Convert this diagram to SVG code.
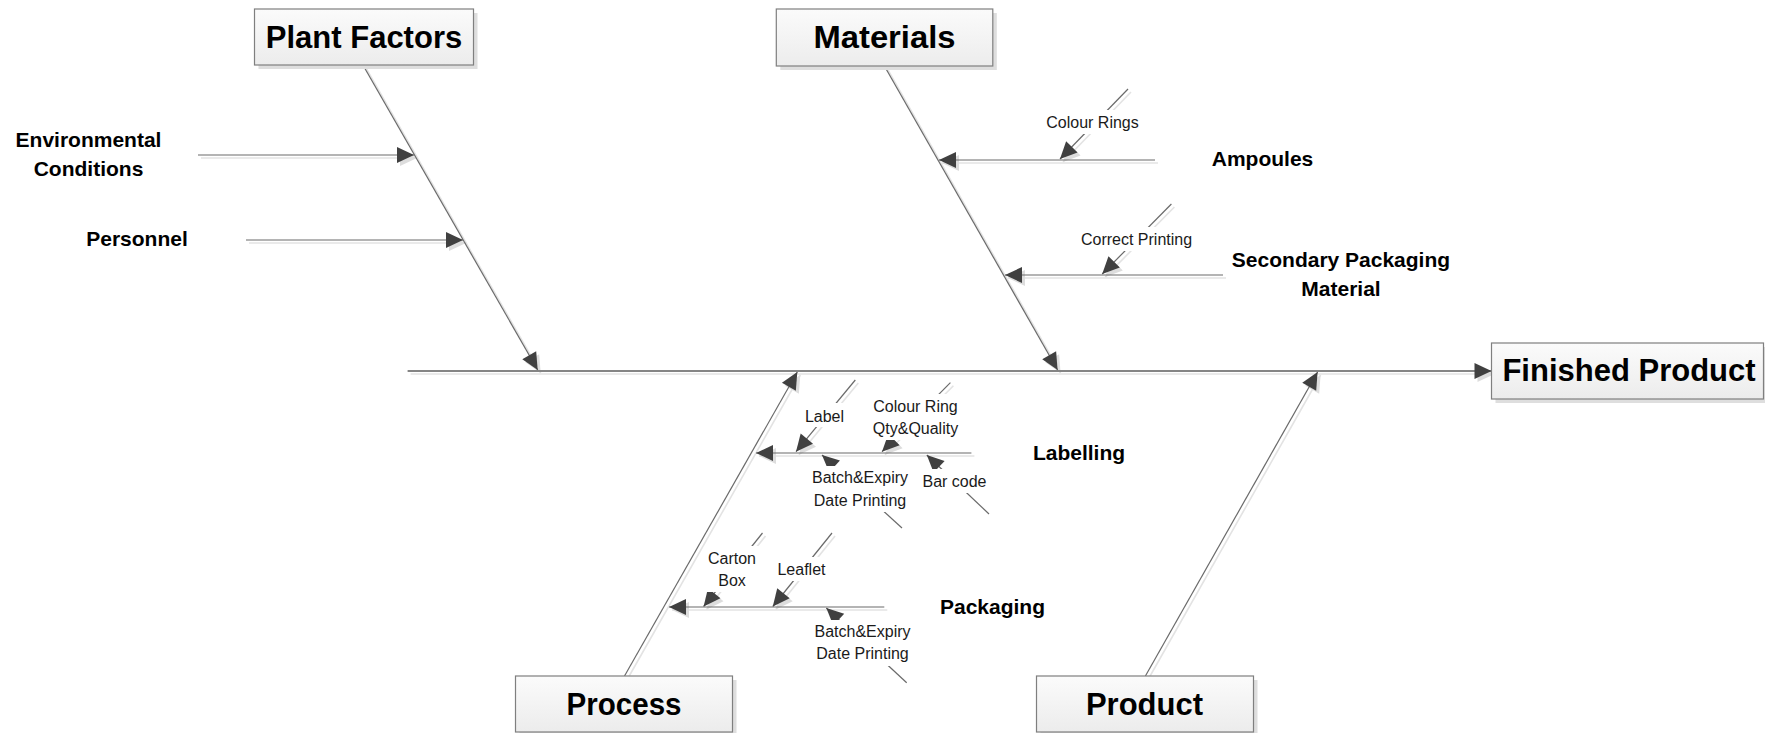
<svg xmlns="http://www.w3.org/2000/svg" width="1765" height="733" viewBox="0 0 1765 733">
<defs>
<linearGradient id="boxg" x1="0" y1="0" x2="0" y2="1">
<stop offset="0" stop-color="#fbfbfb"/>
<stop offset="1" stop-color="#ececec"/>
</linearGradient>
<marker id="ah" markerUnits="userSpaceOnUse" markerWidth="17" markerHeight="16" refX="17" refY="8" orient="auto" overflow="visible">
<path d="M0,0 L17,8 L0,16 z" fill="#404040"/>
</marker>
<marker id="ahs" markerUnits="userSpaceOnUse" markerWidth="17" markerHeight="16" refX="17" refY="8" orient="auto" overflow="visible">
<path d="M0,0 L17,8 L0,16 z" fill="#dddddd"/>
</marker>
</defs>
<style>
.box{fill:url(#boxg);stroke:#7f7f7f;stroke-width:1.2}
.bsh{fill:#dedede}
.big{font-family:"Liberation Sans",Arial,sans-serif;font-weight:bold;font-size:31px;fill:#000;text-anchor:middle}
.cat{font-family:"Liberation Sans",Arial,sans-serif;font-weight:bold;font-size:21px;fill:#000;text-anchor:middle}
.sm{font-family:"Liberation Sans",Arial,sans-serif;font-size:16px;fill:#1a1a1a;text-anchor:middle}
.ln{stroke:#6a6a6a;stroke-width:1.2;fill:none;marker-end:url(#ah)}
.spine{stroke:#858585;stroke-width:2;fill:none;marker-end:url(#ah)}
.sh{stroke:#e3e3e3;stroke-width:1.6;fill:none;marker-end:url(#ahs)}
.bg{fill:#ffffff}
</style>
<rect width="1765" height="733" fill="#ffffff"/>

<g id="shadows" transform="translate(3,3)">
<line class="sh" x1="407.6" y1="371" x2="1491.5" y2="371"/>
<line class="sh" x1="363.5" y1="66" x2="537.7" y2="370"/>
<line class="sh" x1="884.4" y1="66" x2="1057.6" y2="370"/>
<line class="sh" x1="624.5" y1="676" x2="797.3" y2="372"/>
<line class="sh" x1="1145.4" y1="676" x2="1317.6" y2="372"/>
<line class="sh" x1="198" y1="155" x2="414" y2="155"/>
<line class="sh" x1="246" y1="240" x2="463" y2="240"/>
<line class="sh" x1="1155" y1="160" x2="939" y2="160"/>
<line class="sh" x1="1128" y1="89" x2="1060" y2="159"/>
<line class="sh" x1="1223" y1="275" x2="1005" y2="275"/>
<line class="sh" x1="1171.4" y1="204" x2="1102.2" y2="274"/>
<line class="sh" x1="971.4" y1="453" x2="756" y2="453"/>
<line class="sh" x1="855.3" y1="380" x2="796" y2="451.7"/>
<line class="sh" x1="950.4" y1="382.7" x2="882" y2="451.7"/>
<line class="sh" x1="884.3" y1="607" x2="669" y2="607"/>
<line class="sh" x1="762.5" y1="533" x2="703.6" y2="606.5"/>
<line class="sh" x1="832" y1="533" x2="772.8" y2="606.5"/>
</g>

<g id="connectors">
<line class="spine" x1="407.6" y1="371" x2="1491.5" y2="371"/>
<line class="ln" x1="363.5" y1="66" x2="537.7" y2="370"/>
<line class="ln" x1="884.4" y1="66" x2="1057.6" y2="370"/>
<line class="ln" x1="624.5" y1="676" x2="797.3" y2="372"/>
<line class="ln" x1="1145.4" y1="676" x2="1317.6" y2="372"/>
<line class="ln" x1="198" y1="155" x2="414" y2="155"/>
<line class="ln" x1="246" y1="240" x2="463" y2="240"/>
<line class="ln" x1="1155" y1="160" x2="939" y2="160"/>
<line class="ln" x1="1128" y1="89" x2="1060" y2="159"/>
<line class="ln" x1="1223" y1="275" x2="1005" y2="275"/>
<line class="ln" x1="1171.4" y1="204" x2="1102.2" y2="274"/>
<line class="ln" x1="971.4" y1="453" x2="756" y2="453"/>
<line class="ln" x1="855.3" y1="380" x2="796" y2="451.7"/>
<line class="ln" x1="950.4" y1="382.7" x2="882" y2="451.7"/>
<line class="ln" x1="902" y1="528" x2="822" y2="455"/>
<line class="ln" x1="989" y1="514" x2="926.8" y2="455"/>
<line class="ln" x1="884.3" y1="607" x2="669" y2="607"/>
<line class="ln" x1="762.5" y1="533" x2="703.6" y2="606.5"/>
<line class="ln" x1="832" y1="533" x2="772.8" y2="606.5"/>
<line class="ln" x1="906.7" y1="682.7" x2="826.3" y2="608"/>
</g>

<g id="node-plant-factors">
<rect class="bsh" x="258.5" y="13" width="219" height="56"/>
<rect class="box" x="254.5" y="9" width="219" height="56"/>
<text class="big" x="364" y="48">Plant Factors</text>
</g>
<g id="node-materials">
<rect class="bsh" x="780.3" y="13" width="216.5" height="57"/>
<rect class="box" x="776.3" y="9" width="216.5" height="57"/>
<text class="big" x="884.5" y="48" textLength="142" lengthAdjust="spacingAndGlyphs">Materials</text>
</g>
<g id="node-finished-product">
<rect class="bsh" x="1495.5" y="347" width="272" height="56"/>
<rect class="box" x="1491.5" y="343" width="272" height="56"/>
<text class="big" x="1629" y="381">Finished Product</text>
</g>
<g id="node-process">
<rect class="bsh" x="519.5" y="680" width="217" height="56"/>
<rect class="box" x="515.5" y="676" width="217" height="56"/>
<text class="big" x="624" y="715" textLength="115" lengthAdjust="spacingAndGlyphs">Process</text>
</g>
<g id="node-product">
<rect class="bsh" x="1040.5" y="680" width="217" height="56"/>
<rect class="box" x="1036.5" y="676" width="217" height="56"/>
<text class="big" x="1144.5" y="715">Product</text>
</g>

<g id="node-environmental-conditions">
<text class="cat" x="88.5" y="147">Environmental</text>
<text class="cat" x="88.5" y="176">Conditions</text>
</g>
<g id="node-personnel">
<text class="cat" x="137" y="246">Personnel</text>
</g>
<g id="node-ampoules">
<text class="cat" x="1262.5" y="166">Ampoules</text>
</g>
<g id="node-secondary-packaging">
<text class="cat" x="1341" y="267">Secondary Packaging</text>
<text class="cat" x="1341" y="296">Material</text>
</g>
<g id="node-labelling">
<text class="cat" x="1079" y="460">Labelling</text>
</g>
<g id="node-packaging">
<text class="cat" x="992.5" y="614">Packaging</text>
</g>

<g id="node-colour-rings">
<rect class="bg" x="1044" y="110" width="97" height="24"/>
<text class="sm" x="1092.5" y="128">Colour Rings</text>
</g>
<g id="node-correct-printing">
<rect class="bg" x="1075" y="227" width="123" height="24"/>
<text class="sm" x="1136.5" y="245">Correct Printing</text>
</g>
<g id="node-label">
<rect class="bg" x="802" y="403" width="45" height="24"/>
<text class="sm" x="824.5" y="421.5">Label</text>
</g>
<g id="node-colour-ring-qty">
<rect class="bg" x="867" y="394" width="97" height="46"/>
<text class="sm" x="915.5" y="412">Colour Ring</text>
<text class="sm" x="915.5" y="434">Qty&amp;Quality</text>
</g>
<g id="node-batch-expiry-labelling">
<rect class="bg" x="808" y="466" width="104" height="46"/>
<text class="sm" x="860" y="483">Batch&amp;Expiry</text>
<text class="sm" x="860" y="505.5">Date Printing</text>
</g>
<g id="node-bar-code">
<rect class="bg" x="919" y="469" width="71" height="24"/>
<text class="sm" x="954.5" y="486.5">Bar code</text>
</g>
<g id="node-carton-box">
<rect class="bg" x="704" y="546" width="56" height="46"/>
<text class="sm" x="732" y="564">Carton</text>
<text class="sm" x="732" y="586">Box</text>
</g>
<g id="node-leaflet">
<rect class="bg" x="775" y="557" width="54" height="24"/>
<text class="sm" x="801.5" y="575">Leaflet</text>
</g>
<g id="node-batch-expiry-packaging">
<rect class="bg" x="810" y="620" width="105" height="46"/>
<text class="sm" x="862.5" y="637">Batch&amp;Expiry</text>
<text class="sm" x="862.5" y="659">Date Printing</text>
</g>
</svg>
